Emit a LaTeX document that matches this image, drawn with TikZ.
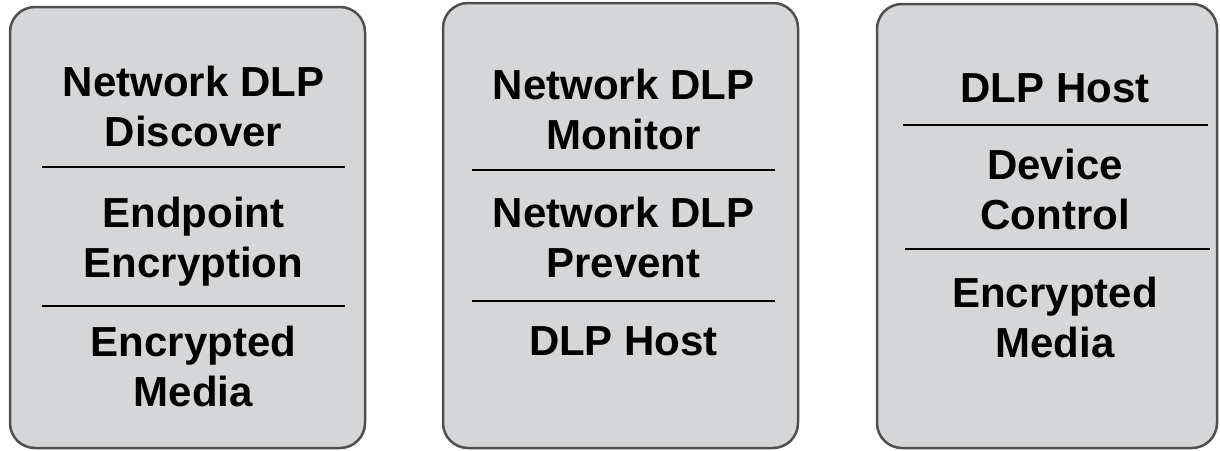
\documentclass[tikz,border=0pt]{standalone}
\usepackage{fontspec}
\setmainfont{Liberation Sans}
\definecolor{panelfill}{HTML}{D5D6D8}
\definecolor{panelborder}{HTML}{4F4F4F}

\begin{document}
\begin{tikzpicture}[
  x=1pt, y=-1pt,
  every node/.style={
    rectangle,
  },
  panel/.style={draw=panelborder, line width=2.5pt, fill=panelfill,
    rounded corners=25pt, inner sep=0pt},
  entry/.style={font=\fontsize{42}{50}\selectfont\bfseries, align=center,
    anchor=base, inner sep=0pt},
  divider/.style={line width=2pt}
]
\useasboundingbox (0,0) rectangle (1220,450);

% the three panels
\node[panel, minimum width=355pt, minimum height=441pt] (leftpanel) at (187.5,227.5) {};
\node[panel, minimum width=355pt, minimum height=445pt] (midpanel) at (620.5,225.5) {};
\node[panel, minimum width=340pt, minimum height=444pt] (rightpanel) at (1047,226) {};

% left panel (base = last line)
\node[entry] (discover) at (193.5,146) {Network DLP\\Discover};
\draw[divider] (42,167) -- (345,167);
\node[entry] (endpoint) at (193.5,277) {Endpoint\\Encryption};
\draw[divider] (42,306) -- (345,306);
\node[entry] (leftmedia) at (193.5,406) {Encrypted\\Media};

% middle panel
\node[entry] (monitor) at (623.5,149) {Network DLP\\Monitor};
\draw[divider] (472,170) -- (775,170);
\node[entry] (prevent) at (623.5,277) {Network DLP\\Prevent};
\draw[divider] (472,301) -- (775,301);
\node[entry] (midhost) at (623.5,355) {DLP Host};

% right panel
\node[entry] (righthost) at (1055,102) {DLP Host};
\draw[divider] (903,125) -- (1208,125);
\node[entry] (device) at (1055,229) {Device\\Control};
\draw[divider] (905,249) -- (1210,249);
\node[entry] (rightmedia) at (1055,357) {Encrypted\\Media};
\end{tikzpicture}
\end{document}
